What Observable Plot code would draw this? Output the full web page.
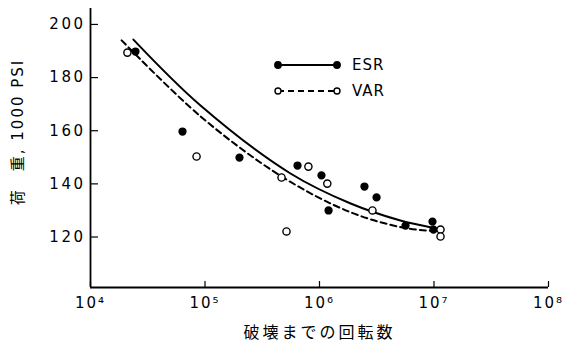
<!DOCTYPE html>
<html>
<head>
<meta charset="utf-8">
<script src="https://cdn.jsdelivr.net/npm/d3@7"></script>
<script src="https://cdn.jsdelivr.net/npm/@observablehq/plot@0.6"></script>
<style>
  html, body { margin: 0; padding: 0; background: #fff; }
  #chart svg { display: block; }
</style>
</head>
<body>
<div id="chart"></div>
<script>
// ---- data ----
const esrCycles = [2.47e4, 6.36e4, 2.0e5, 6.43e5, 1.04e6, 1.2e6, 2.47e6, 3.15e6, 5.64e6, 9.7e6, 9.9e6];
const esrLoad   = [189.8, 159.7, 149.9, 146.9, 143.2, 130.0, 139.0, 134.9, 124.3, 125.8, 122.8];
const varCycles = [2.1e4, 8.44e4, 4.66e5, 5.15e5, 8.0e5, 1.17e6, 2.9e6, 1.14e7, 1.14e7];
const varLoad   = [189.4, 150.3, 142.4, 122.1, 146.5, 140.1, 130.0, 122.8, 120.2];
const esrCurveCycles = [2.37e4, 9.14e4, 5.58e5, 1.87e6, 5.09e6, 9.5e6];
const esrCurveLoad   = [194.3, 169.5, 143.9, 132.6, 126.2, 123.6];
const varCurveCycles = [1.87e4, 9.14e4, 4.66e5, 1.87e6, 5.42e6, 9.7e6];
const varCurveLoad   = [194.0, 165.4, 142.8, 129.3, 123.5, 122.3];
const seriesNames = ["ESR", "VAR"];
const xTicks = [1e4, 1e5, 1e6, 1e7, 1e8];
const yTicks = [120, 140, 160, 180, 200];
const xLabel = "破壊までの回転数";
const yLabel = "荷　重, 1000 PSI";

const toRows = (xs, ys) => xs.map((x, i) => ({x, y: ys[i]}));
const esrPts = toRows(esrCycles, esrLoad);
const varPts = toRows(varCycles, varLoad);
const esrCurve = toRows(esrCurveCycles, esrCurveLoad);
const varCurve = toRows(varCurveCycles, varCurveLoad);

const sup = {"4": "⁴", "5": "⁵", "6": "⁶", "7": "⁷", "8": "⁸"};
const fmtX = d => "10" + sup[String(Math.round(Math.log10(d)))];

const font = "'DejaVu Sans', 'Noto Sans CJK JP', sans-serif";
const W = 570, H = 349, mL = 90, mR = 22, mT = 8, mB = 62;
const frameW = W - mL - mR, frameH = H - mT - mB;

const plot = Plot.plot({
  width: W,
  height: H,
  marginLeft: mL,
  marginRight: mR,
  marginTop: mT,
  marginBottom: mB,
  style: {fontFamily: font, color: "#000", background: "#fff"},
  x: {type: "log", domain: [1e4, 1e8]},
  y: {domain: [101, 206]},
  marks: [
    Plot.axisY({ticks: yTicks, tickSize: 0, tickPadding: 5, fontSize: 15, label: null}),
    Plot.axisX({ticks: xTicks, tickFormat: fmtX, tickSize: 0, tickPadding: 10, fontSize: 15, label: null}),
    // inward ticks
    Plot.tickY(yTicks, {y: d => d, stroke: "#000", strokeWidth: 1.2, insetRight: frameW - 8}),
    Plot.tickX(xTicks, {x: d => d, stroke: "#000", strokeWidth: 1.2, insetTop: frameH - 6}),
    Plot.ruleX([1e4], {stroke: "#000", strokeWidth: 1.8}),
    Plot.ruleY([101], {stroke: "#000", strokeWidth: 1.8}),
    Plot.line(esrCurve, {x: "x", y: "y", curve: "catmull-rom", stroke: "#000", strokeWidth: 2}),
    Plot.line(varCurve, {x: "x", y: "y", curve: "catmull-rom", stroke: "#000", strokeWidth: 2, strokeDasharray: "6,4"}),
    Plot.dot(esrPts, {x: "x", y: "y", r: 3.4, fill: "#000", stroke: "#000"}),
    Plot.dot(varPts, {x: "x", y: "y", r: 3.6, fill: "#fff", stroke: "#000", strokeWidth: 1.4}),
    Plot.text([yLabel], {frameAnchor: "left", textAnchor: "middle", rotate: -90, dx: -72, dy: -16, fontSize: 15, fill: "#000"}),
    Plot.text([xLabel], {frameAnchor: "bottom", dy: 50, fontSize: 16, fill: "#000"})
  ]
});

const svg = d3.select(plot);
// letter spacing for texts
svg.selectAll("text").filter(function() { return this.textContent === yLabel; })
  .attr("letter-spacing", "2px");
svg.selectAll("text").filter(function() { return this.textContent === xLabel; })
  .attr("letter-spacing", "3px");
svg.selectAll('g[aria-label="y-axis tick label"] text').attr("letter-spacing", "2.5px");
svg.selectAll('g[aria-label="x-axis tick label"] text').attr("letter-spacing", "2px");

// legend drawn inside the plot area
const lg = svg.append("g").attr("font-family", font).attr("font-size", 15).attr("text-anchor", "start");
const legendItems = [
  {name: seriesNames[0], dash: null, fill: "#000", y: 65},
  {name: seriesNames[1], dash: "6,4", fill: "#fff", y: 91}
];
for (const it of legendItems) {
  lg.append("line").attr("x1", 278).attr("x2", 337).attr("y1", it.y).attr("y2", it.y)
    .attr("stroke", "#000").attr("stroke-width", 2).attr("stroke-dasharray", it.dash);
  for (const cx of [278, 337]) {
    lg.append("circle").attr("cx", cx).attr("cy", it.y).attr("r", it.fill === "#000" ? 3.2 : 3)
      .attr("fill", it.fill).attr("stroke", "#000").attr("stroke-width", 1.4);
  }
  lg.append("text").attr("x", 352).attr("y", it.y).attr("dy", "0.35em")
    .attr("letter-spacing", "1px").attr("fill", "#000").text(it.name);
}

document.getElementById("chart").appendChild(plot);
</script>
</body>
</html>
